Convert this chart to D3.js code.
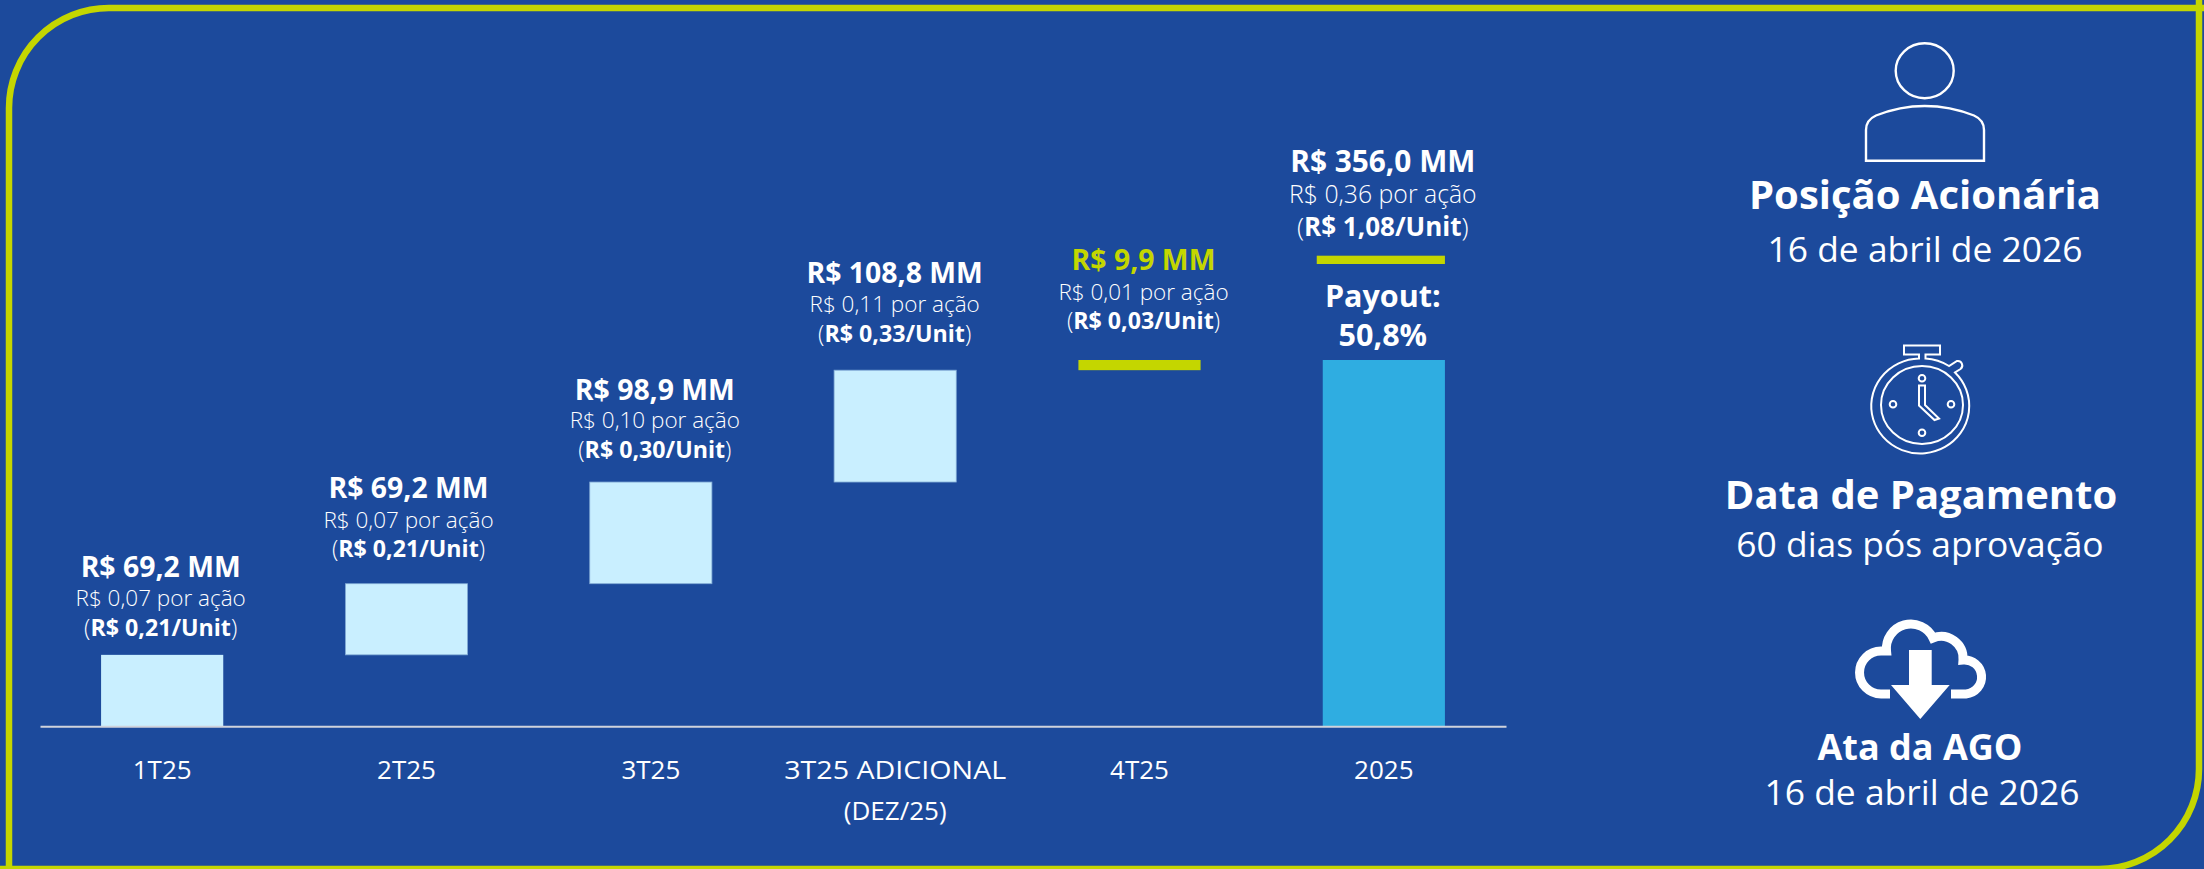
<!DOCTYPE html>
<html><head><meta charset="utf-8">
<script src="https://cdn.jsdelivr.net/npm/d3@7"></script>
<style>html,body{margin:0;padding:0;background:#1c4a9c;overflow:hidden}svg{display:block}text{font-family:"Open Sans",sans-serif;fill:#fff}</style>
</head><body><svg id="c" width="2204" height="869"></svg>
<script>
const categories = ["1T25","2T25","3T25","3T25 ADICIONAL\n(DEZ/25)","4T25","2025"];
const values = [69.2,69.2,98.9,108.8,9.9,356.0];
const isTotal = [false,false,false,false,false,true];
const totals = ["R$ 69,2 MM","R$ 69,2 MM","R$ 98,9 MM","R$ 108,8 MM","R$ 9,9 MM","R$ 356,0 MM"];
const perShare = ["R$ 0,07 por ação","R$ 0,07 por ação","R$ 0,10 por ação","R$ 0,11 por ação","R$ 0,01 por ação","R$ 0,36 por ação"];
const perUnit = ["R$ 0,21/Unit","R$ 0,21/Unit","R$ 0,30/Unit","R$ 0,33/Unit","R$ 0,03/Unit","R$ 1,08/Unit"];
const payoutLines = ["Payout:","50,8%"];
const sideTitles = ["Posição Acionária","Data de Pagamento","Ata da AGO"];
const sideTexts = ["16 de abril de 2026","60 dias pós aprovação","16 de abril de 2026"];

const lime="#c4d600", bg="#1c4a9c", light="#c9efff", blue="#2fade1";
const svg=d3.select("#c");
svg.append("path").attr("fill","none").attr("stroke",lime).attr("stroke-width",6.5)
  .attr("d","M9,875 V108 A100,100 0 0 1 109,8 H2210 M2199,0 V769 A100,100 0 0 1 2099,869 H0");

const x=d3.scaleBand().domain(categories).range([40,1506]).paddingInner(0.5).paddingOuter(0.25);
const y=d3.scaleLinear().domain([0,356]).range([726,360]);
let run=0;
const rows=categories.map((c,i)=>{const base=isTotal[i]?0:run; if(!isTotal[i])run+=values[i];
  return {c,i,v:values[i],y0:base,y1:base+values[i]};});

svg.append("g").selectAll("rect").data(rows).join("rect")
  .attr("x",d=>x(d.c)).attr("width",x.bandwidth())
  .attr("y",d=>y(d.y1)).attr("height",d=>y(d.y0)-y(d.y1))
  .attr("fill",d=>isTotal[d.i]?blue:(d.i===4?lime:light))
  .attr("stroke",d=>d.i>=1&&d.i<=3?"#7fa9d4":"none").attr("stroke-width",0.8);

const axis=d3.axisBottom(x).tickSize(0).tickPadding(0);
const ax=svg.append("g").attr("transform","translate(0,726.3)").call(axis);
ax.select(".domain").attr("stroke","#cfd3dc").attr("stroke-width",2);
ax.selectAll(".tick text").each(function(d){
  const t=d3.select(this).text(null).attr("font-size",26).attr("font-weight",400).attr("y",0).attr("dy",0).attr("text-anchor","middle");
  d.split("\n").forEach((l,k)=>{
    const s=t.append("tspan").attr("x",0).attr("y",52.7+k*41).text(l);
    if(l.length>10) s.attr("textLength",222).attr("lengthAdjust","spacingAndGlyphs");
  });
});

// gap from the top of each bar to the last label baseline, line offsets and horizontal nudge
const labelGap=[19.3,26.3,24.3,28.3,30.7,124.3];
const labelNudge=[-1.5,2,4,-0.5,4,-1];
const topLine=[59,59,58,59,59,64], midLine=[29.5,29.5,29.5,29.5,29.5,32.4];
const topFs=[28.4,28.4,28.4,28.4,28.4,29.8], midFs=[22.5,22.5,22.5,22.5,22.5,24.8], unitFs=[23.2,23.2,23.2,23.2,23.2,26];
const fL=svg.append("g");
rows.forEach(d=>{
  const cx=x(d.c)+x.bandwidth()/2+labelNudge[d.i], b=y(d.y1)-labelGap[d.i];
  fL.append("text").attr("x",cx).attr("y",b-topLine[d.i]).attr("text-anchor","middle").attr("font-size",topFs[d.i]).attr("font-weight",700)
    .style("fill",d.i===4?lime:"#fff").text(totals[d.i]);
  fL.append("text").attr("x",cx).attr("y",b-midLine[d.i]).attr("text-anchor","middle").attr("font-size",midFs[d.i]).attr("font-weight",300).text(perShare[d.i]);
  const t=fL.append("text").attr("x",cx).attr("y",b).attr("text-anchor","middle").attr("font-size",unitFs[d.i]);
  t.append("tspan").attr("font-weight",300).text("(");
  t.append("tspan").attr("font-weight",700).text(perUnit[d.i]);
  t.append("tspan").attr("font-weight",300).text(")");
});
// total annotation: rule and payout
const last=rows[5], tx=x(last.c);
svg.append("rect").attr("x",tx-6).attr("width",x.bandwidth()+6).attr("y",y(last.y1)-104.3).attr("height",8.3).attr("fill",lime);
payoutLines.forEach((l,k)=>svg.append("text").attr("x",tx+x.bandwidth()/2-1).attr("y",y(last.y1)-53.3+k*39.3)
  .attr("text-anchor","middle").attr("font-size",30.5).attr("font-weight",700).text(l));

// right column
const sideX=[1925,1921,1920], subX=[1925,1920,1922];
const titleY=[209.3,508.7,760], subY=[261.7,557.3,805], titleFs=[40,40,36], subFs=[35.4,35.4,35.4];
sideTitles.forEach((s,i)=>{
  svg.append("text").attr("x",sideX[i]).attr("y",titleY[i]).attr("text-anchor","middle").attr("font-size",titleFs[i]).attr("font-weight",700).text(s);
  svg.append("text").attr("x",subX[i]).attr("y",subY[i]).attr("text-anchor","middle").attr("font-size",subFs[i]).attr("font-weight",400).text(sideTexts[i]);
});
// person icon
const ic=svg.append("g").attr("fill","none").attr("stroke","#fff").attr("stroke-width",2.4);
ic.append("ellipse").attr("cx",1924.7).attr("cy",70.8).attr("rx",29).attr("ry",27.5);
ic.append("path").attr("d","M1866,160.7 V130 Q1866,120 1876,115.5 Q1900,106 1924.7,106 Q1950,106 1974,115.5 Q1984,120 1984,130 V160.7 Z");
// stopwatch icon
const sw=svg.append("g").attr("fill","none").attr("stroke","#fff").attr("stroke-width",2).attr("transform","translate(1,0)");
sw.append("path").attr("d","M1918,358.5 V354.5 H1903 V345.5 H1939 V354.5 H1924.5 V358.5 A49,47.5 0 0 1 1948,366 L1956,361 A4.5,4.5 0 0 1 1959.5,369 L1954,372.5 A49,47.5 0 1 1 1918,358.5 Z");
sw.append("ellipse").attr("cx",1921).attr("cy",405).attr("rx",41).attr("ry",39);
[[1892,404.3],[1950,404.3],[1921,378.3],[1921,432.7]].forEach(p=>sw.append("circle").attr("cx",p[0]).attr("cy",p[1]).attr("r",3.3));
sw.append("path").attr("d","M1918,385.5 H1924 V405 L1938,418.5 L1933.5,420 L1918,405.5 Z");
// cloud icon
svg.append("path").attr("fill","none").attr("stroke","#fff").attr("stroke-width",9)
  .attr("d","M1890,694 H1881 A21.5,21.5 0 0 1 1881,651 H1886.5 A24.5,24.5 0 0 1 1933,638 A22,22 0 0 1 1963,660 A17,17 0 0 1 1966,694 H1951");
svg.append("path").attr("fill","#fff")
  .attr("d","M1909,650 H1931.7 V685 H1949.7 L1920.3,719 L1891,685 H1909 Z");
</script></body></html>
